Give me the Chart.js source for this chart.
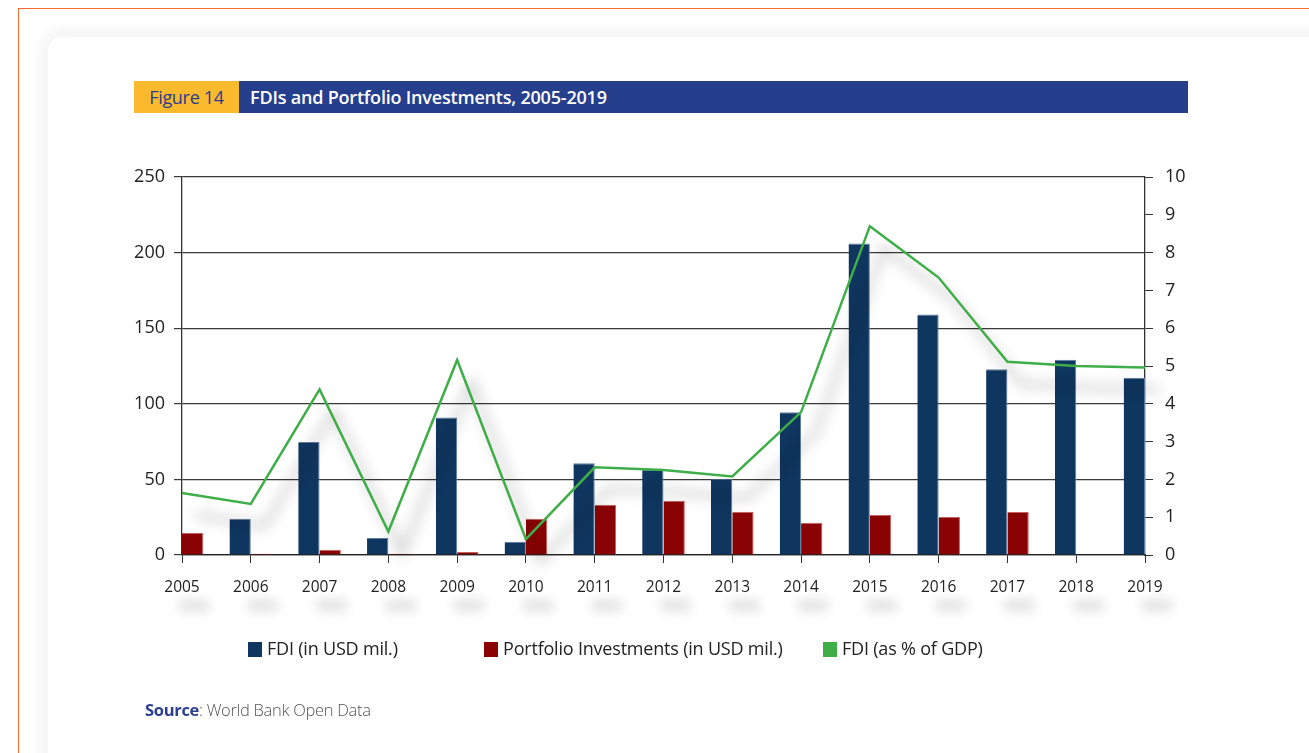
<!DOCTYPE html>
<html>
<head>
<meta charset="utf-8">
<script src="https://cdn.jsdelivr.net/npm/chart.js@4"></script>
<style>
  html, body { margin:0; padding:0; background:#fff; }
  body { width:1309px; height:753px; position:relative; overflow:hidden; font-family:"Open Sans", sans-serif; }
  .border-top { position:absolute; left:18px; top:8px; right:0; height:0; border-top:1.5px solid #f26a2e; }
  .border-left { position:absolute; left:18px; top:8px; bottom:0; width:0; border-left:1.5px solid #f26a2e; }
  .panel { position:absolute; left:48px; top:37px; width:1330px; height:760px; border-radius:14px; background:#fff;
           box-shadow:0 0 12px 8px rgba(0,0,0,0.045); }
  .fig { position:absolute; left:134px; top:81px; width:105px; height:32px; background:#fbb92e; color:#2b3c8e;
         font-size:18px; line-height:32px; text-align:center; font-family:"Open Sans", sans-serif; letter-spacing:-0.3px; }
  .ttl { position:absolute; left:239px; top:81px; width:949px; height:32px; background:#253f8d; color:#fff;
         font-size:18px; font-weight:600; line-height:32px; padding-left:11px; box-sizing:border-box; letter-spacing:-0.2px; }
  canvas { position:absolute; left:0; top:0; }
  .leg { position:absolute; top:637px; font-size:18px; color:#222; line-height:22px; white-space:nowrap; letter-spacing:-0.2px; }
  .sw { display:inline-block; width:14px; height:15px; vertical-align:-2px; margin-right:5px; }
  .src { position:absolute; left:145px; top:698px; font-size:16.5px; color:#555; font-weight:300; letter-spacing:-0.3px; }
  .src b { color:#2a3f8f; font-weight:700; }
</style>
</head>
<body>
<div class="panel"></div>
<div class="border-top"></div>
<div class="border-left"></div>
<div class="fig">Figure 14</div>
<div class="ttl">FDIs and Portfolio Investments, 2005-2019</div>
<canvas id="c" width="1309" height="753"></canvas>
<div id="legend"></div>
<div class="src"><b>Source</b>: World Bank Open Data</div>
<script>
const years = ['2005','2006','2007','2008','2009','2010','2011','2012','2013','2014','2015','2016','2017','2018','2019'];
const fdiUsd = [null, 24.0, 74.8, 11.2, 90.9, 8.8, 60.7, 56.5, 50.4, 94.4, 206.0, 159.1, 122.8, 129.2, 117.3];
const portfolioUsd = [14.5, 0.9, 3.5, 0.9, 2.0, 24.0, 33.2, 35.9, 28.6, 21.3, 26.4, 25.1, 28.4, null, null];
const fdiPctGdp = [1.64, 1.35, 4.38, 0.62, 5.16, 0.42, 2.32, 2.25, 2.08, 3.78, 8.70, 7.34, 5.11, 5.00, 4.96];
const leftTicks = [0, 50, 100, 150, 200, 250];
const rightTicks = [0,1,2,3,4,5,6,7,8,9,10];
const seriesNames = ['FDI (in USD mil.)', 'Portfolio Investments (in USD mil.)', 'FDI (as % of GDP)'];
const colors = ['#0f365f', '#8a0304', '#3fae49'];

// HTML legend
const legendPos = [248, 484, 823];
const legendEl = document.getElementById('legend');
seriesNames.forEach((n, i) => {
  const d = document.createElement('div');
  d.className = 'leg';
  d.style.left = legendPos[i] + 'px';
  d.innerHTML = '<span class="sw" style="background:' + colors[i] + '"></span>' + n;
  legendEl.appendChild(d);
});

const lineShadow = {
  id: 'lineShadow',
  beforeDatasetDraw(chart, args) {
    if (chart.data.datasets[args.index].type === 'line') {
      const ctx = chart.ctx;
      ctx.save();
      ctx.shadowColor = 'rgba(0,0,0,0.45)';
      ctx.shadowBlur = 14;
      ctx.shadowOffsetX = 14;
      ctx.shadowOffsetY = 22;
    }
  },
  afterDatasetDraw(chart, args) {
    if (chart.data.datasets[args.index].type === 'line') chart.ctx.restore();
  }
};

const labelShadow = {
  id: 'labelShadow',
  beforeDatasetsDraw(chart) {
    const ctx = chart.ctx;
    const xs = chart.scales.x;
    ctx.save();
    ctx.fillStyle = '#000';
    ctx.shadowColor = 'rgba(0,0,0,0.13)';
    ctx.shadowBlur = 12;
    ctx.shadowOffsetX = 10000 + 12;
    ctx.shadowOffsetY = 0;
    xs.ticks.forEach((t, i) => {
      const px = xs.getPixelForTick(i);
      ctx.fillRect(px - 10000 - 15, 600, 30, 11);
    });
    ctx.restore();
  }
};

new Chart(document.getElementById('c'), {
  type: 'bar',
  data: {
    labels: years,
    datasets: [
      { type: 'line', label: seriesNames[2], data: fdiPctGdp, yAxisID: 'y2', borderColor: colors[2],
        backgroundColor: colors[2], borderWidth: 2.5, pointRadius: 0, tension: 0, order: 0, clip: false },
      { label: seriesNames[0], data: fdiUsd, backgroundColor: colors[0], borderColor: '#5d7ea3',
        borderWidth: {top: 1, left: 0, right: 1, bottom: 0}, yAxisID: 'y', order: 1,
        categoryPercentage: 0.62, barPercentage: 1.0 },
      { label: seriesNames[1], data: portfolioUsd, backgroundColor: colors[1], borderColor: '#c46060',
        borderWidth: {top: 1, left: 0, right: 1, bottom: 0}, yAxisID: 'y', order: 2,
        categoryPercentage: 0.62, barPercentage: 1.0 }
    ]
  },
  options: {
    responsive: false,
    animation: false,
    devicePixelRatio: 1,
    layout: { padding: { left: 122, right: 104, top: 177, bottom: 138 } },
    plugins: { legend: { display: false }, tooltip: { enabled: false } },
    scales: {
      x: {
        offset: false,
        grid: { display: true, drawOnChartArea: false, offset: false, color: '#333', tickLength: 8, lineWidth: 1 },
        border: { display: true, color: '#222', width: 1.3 },
        ticks: { color: '#222', font: { family: 'Open Sans', size: 15.5 }, padding: 15, maxRotation: 0, autoSkip: false },
        afterFit(s) { s.height = 60; }
      },
      y: {
        position: 'left', min: 0, max: 250,
        afterBuildTicks(s) { s.ticks = leftTicks.map(v => ({ value: v })); },
        grid: { color: '#3a3a3a', lineWidth: 1.2, tickLength: 8, drawTicks: true },
        border: { display: true, color: '#333', width: 1.3 },
        ticks: { color: '#222', font: { family: 'Open Sans', size: 18 }, padding: 9 },
        afterFit(s) { s.width = 60; }
      },
      y2: {
        position: 'right', min: 0, max: 10,
        afterBuildTicks(s) { s.ticks = rightTicks.map(v => ({ value: v })); },
        grid: { drawOnChartArea: false, color: '#333', tickLength: 8 },
        border: { display: true, color: '#333', width: 1.3 },
        ticks: { color: '#222', font: { family: 'Open Sans', size: 18 }, padding: 12 },
        afterFit(s) { s.width = 60; }
      }
    }
  },
  plugins: [lineShadow, labelShadow]
});
</script>
</body>
</html>
